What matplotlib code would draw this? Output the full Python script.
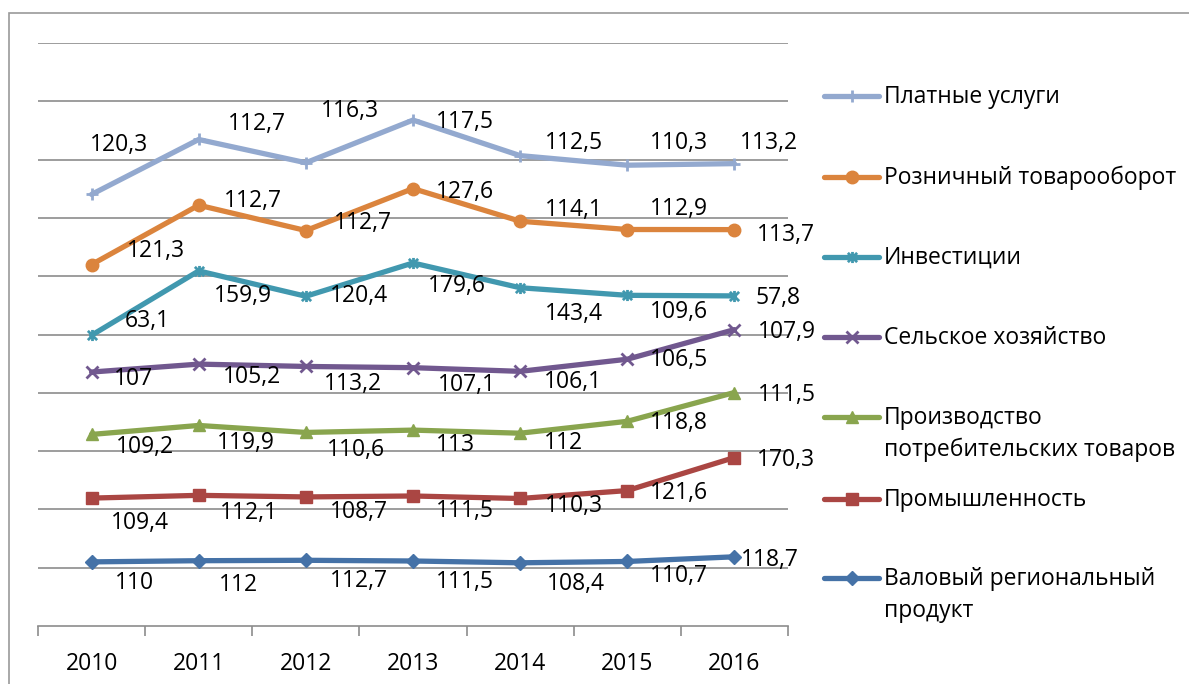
import numpy as np
import matplotlib
matplotlib.use("Agg")
import matplotlib.pyplot as plt
from matplotlib.lines import Line2D
from matplotlib.patches import Rectangle
from matplotlib.path import Path

plt.rcParams['font.family'] = ['Open Sans', 'DejaVu Sans']

# ---------------- data ----------------
years = ["2010", "2011", "2012", "2013", "2014", "2015", "2016"]
# series from bottom of stack to top
series_names = [
    "Валовый региональный\nпродукт",
    "Промышленность",
    "Производство\nпотребительских товаров",
    "Сельское хозяйство",
    "Инвестиции",
    "Розничный товарооборот",
    "Платные услуги",
]
vrp = [110, 112, 112.7, 111.5, 108.4, 110.7, 118.7]
prom = [109.4, 112.1, 108.7, 111.5, 110.3, 121.6, 170.3]
potreb = [109.2, 119.9, 110.6, 113, 112, 118.8, 111.5]
selskoe = [107, 105.2, 113.2, 107.1, 106.1, 106.5, 107.9]
invest = [63.1, 159.9, 120.4, 179.6, 143.4, 109.6, 57.8]
rozn = [121.3, 112.7, 112.7, 127.6, 114.1, 112.9, 113.7]
platnye = [120.3, 112.7, 116.3, 117.5, 112.5, 110.3, 113.2]
series_values = [vrp, prom, potreb, selskoe, invest, rozn, platnye]

# ---------------- styles ----------------
colors = ["#4572A7", "#AA4643", "#89A54E", "#71588F", "#4198AF", "#DB843D", "#93A9CF"]
star = Path([(-1, -1), (1, 1), (-1, 1), (1, -1), (0, -1.2), (0, 1.2)],
            [Path.MOVETO, Path.LINETO, Path.MOVETO, Path.LINETO, Path.MOVETO, Path.LINETO])
markers = ["D", "s", "^", "x", star, "o", "+"]
msizes = [7, 9, 9, 8, 8, 9, 9]
# label offsets from point, in pixels (dx right, dy down)
label_offsets = [
    [(43, 21), (40, 24), (53, 21), (52, 21), (56, 21), (52, 15), (35, 3)],
    [(48, 25), (50, 18), (53, 15), (52, 15), (54, 8), (52, 2), (52, 2)],
    [(53, 13), (47, 18), (50, 18), (42, 15), (43, 10), (52, 2), (52, 2)],
    [(42, 7), (53, 13), (47, 18), (54, 17), (53, 11), (52, 1), (52, 2)],
    [(56, -14), (44, 25), (53, 0), (44, 23), (54, 26), (52, 17), (44, 2)],
    [(64, -14), (54, -4), (57, -8), (52, 3), (54, -11), (52, -21), (51, 5)],
    [(27, -49), (58, -15), (44, -52), (52, 2), (54, -13), (52, -22), (35, -21)],
]

W, H = 1189, 684
FS = 16.5
fig = plt.figure(figsize=(W / 100, H / 100), dpi=100)
ax = fig.add_axes([38 / W, 1 - 626 / H, (788 - 38) / W, (626 - 43) / H])

x = np.arange(len(years))
cum = np.cumsum(np.array(series_values, dtype=float), axis=0)

def fmt(v):
    s = ("%g" % v)
    return s.replace(".", ",")

for i, (vals, c) in enumerate(zip(series_values, colors)):
    ax.plot(x, cum[i], color=c, lw=3.8, marker=markers[i], ms=msizes[i],
            mec=c, mfc=c, mew=2 if markers[i] in ("x", "+") or markers[i] is star else 1,
            solid_capstyle="round", solid_joinstyle="round", zorder=3 + i * 0.01)
    for j, v in enumerate(vals):
        dx, dy = label_offsets[i][j]
        ax.annotate(fmt(v), (x[j], cum[i][j]), xytext=(dx * 0.72, -dy * 0.72),
                    textcoords="offset points", ha="center", va="center",
                    fontsize=FS, color="black", zorder=5)

ax.set_xlim(-0.5, len(years) - 0.5)
ax.set_ylim(0, 1000)
ax.set_yticks(np.arange(100, 1001, 100))
ax.yaxis.grid(True, color="#8c8c8c", lw=1.2)
ax.set_axisbelow(True)
ax.tick_params(axis="y", left=False, labelleft=False)
for s in ("left", "right", "top"):
    ax.spines[s].set_visible(False)
ax.spines["bottom"].set_color("#8c8c8c")
ax.spines["bottom"].set_linewidth(1.2)
ax.set_xticks(x)
ax.set_xticklabels(years, fontsize=FS)
ax.set_xticks(np.arange(-0.5, len(years), 1), minor=True)
ax.tick_params(axis="x", which="major", length=0, pad=19)
ax.tick_params(axis="x", which="minor", length=7, width=1.2, color="#8c8c8c", direction="out")

# outer chart border (extends beyond right/bottom edge)
fig.patches.append(Rectangle((9 / W, -0.2), 1.2, 1.2 - 13 / H, transform=fig.transFigure,
                             fill=False, ec="#9a9a9a", lw=1.2))

# legend drawn Excel-style (top = last series)
leg_y = [578, 499, 417, 337, 257, 177, 96]
for i in range(len(series_names)):
    fy = 1 - leg_y[i] / H
    ln = Line2D([824 / W, 879 / W], [fy, fy], transform=fig.transFigure, color=colors[i],
                lw=3.8, solid_capstyle="round")
    mk = Line2D([851.5 / W], [fy], transform=fig.transFigure, color=colors[i],
                marker=markers[i], ms=msizes[i], mec=colors[i], mfc=colors[i],
                mew=2 if markers[i] in ("x", "+") or markers[i] is star else 1, lw=0)
    fig.lines.extend([ln, mk])
    for k, line in enumerate(series_names[i].split("\n")):
        fig.text(884 / W, 1 - (leg_y[i] + 1 + 32 * k) / H, line, fontsize=FS,
                 ha="left", va="center")

fig.savefig("out.png", dpi=100)
